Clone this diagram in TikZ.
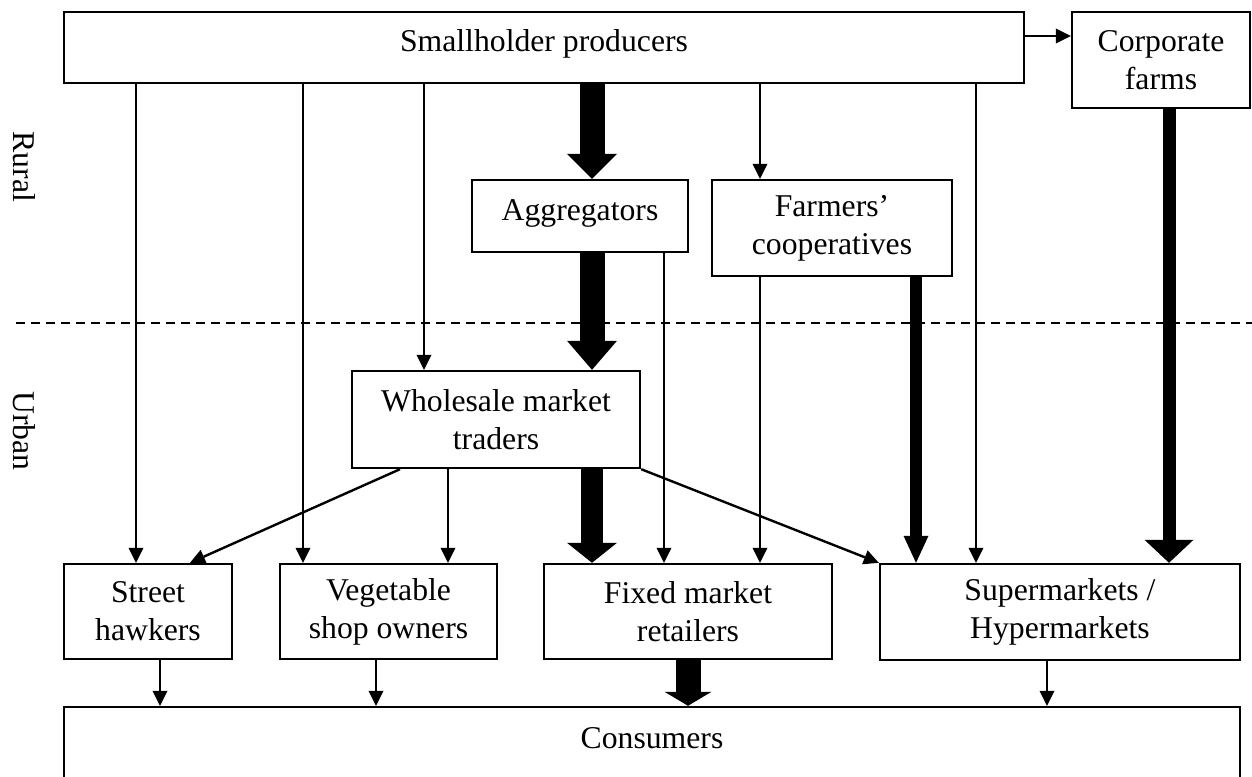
\documentclass[tikz,border=0pt]{standalone}
\usepackage{fontspec}
\setmainfont{Liberation Serif}
\usetikzlibrary{arrows.meta}
\begin{document}
\begin{tikzpicture}[x=1pt,y=-1pt,
  box/.style={draw, line width=2.4pt, align=center, inner sep=0pt, font=\fontsize{31.7}{38}\selectfont},
  oneline/.style={text height=22pt, text depth=13pt},
  conn/.style={line width=2.4pt, -{Triangle[width=15pt,length=15pt,line width=0pt]}},
  fat/.style n args={3}{line width=#1pt, -{Triangle[width=#2pt,length=#3pt,line width=0pt]}},
  side/.style={rotate=-90, inner sep=0pt, font=\fontsize{31.7}{38}\selectfont},
  divider/.style={line width=2.3pt, dash pattern=on 9pt off 6pt}]
\clip (0,0) rectangle (1252,776);
% boxes
\node[box,oneline,minimum width=960pt,minimum height=71pt] (sp) at (544,47.5) {Smallholder producers};
\node[box,minimum width=178pt,minimum height=96pt] (cf) at (1161,60) {Corporate\\farms};
\node[box,oneline,minimum width=216pt,minimum height=72pt] (ag) at (580,216) {Aggregators};
\node[box,minimum width=240pt,minimum height=96pt] (fc) at (832,228) {Farmers’\\cooperatives};
\node[box,minimum width=288pt,minimum height=97pt] (wm) at (496,419.5) {Wholesale market\\traders};
\node[box,minimum width=168pt,minimum height=95pt] (sh) at (148,611.5) {Street\\hawkers};
\node[box,minimum width=217pt,minimum height=95pt] (vs) at (388.5,611.5) {Vegetable\\shop owners};
\node[box,minimum width=288pt,minimum height=95pt] (fm) at (688,611.5) {Fixed market\\retailers};
\node[box,minimum width=360pt,minimum height=96pt] (sm) at (1060,612) {Supermarkets /\\Hypermarkets};
\node[box,oneline,minimum width=1176pt,minimum height=73pt] (co) at (652,743.5) {Consumers};
% side labels
\node[side] (rural) at (24,167) {Rural};
\node[side] (urban) at (24,431) {Urban};
% divider
\coordinate (dl) at (16,323);
\coordinate (dr) at (1252,323);
\draw[divider] (dl) -- (dr);
% helper x positions
\foreach \xx in {136,160,190,303,376,400,424,448,592,664,688,760,916,976,1047,1169}
  \coordinate (x\xx) at (\xx,0);
\coordinate (y36) at (0,36);
% thin connectors
\draw[conn] (sp.east |- y36) -- (cf.west |- y36);
\draw[conn] (sp.south -| x136) -- (sh.north -| x136);
\draw[conn] (sp.south -| x303) -- (vs.north -| x303);
\draw[conn] (sp.south -| x424) -- (wm.north -| x424);
\draw[conn] (sp.south -| x760) -- (fc.north -| x760);
\draw[conn] (sp.south -| x976) -- (sm.north -| x976);
\draw[conn] (ag.south -| x664) -- (fm.north -| x664);
\draw[conn] (fc.south -| x760) -- (fm.north -| x760);
\draw[conn] (wm.south -| x448) -- (vs.north -| x448);
\draw[conn] (wm.south -| x400) -- (sh.north -| x190);
\draw[conn] (wm.south east) -- (sm.north west);
\draw[conn] (sh.south -| x160) -- (co.north -| x160);
\draw[conn] (vs.south -| x376) -- (co.north -| x376);
\draw[conn] (sm.south -| x1047) -- (co.north -| x1047);
% thick connectors
\draw[fat={25}{50}{25}] (sp.south -| x592) -- (ag.north -| x592);
\draw[fat={25}{50}{29}] (ag.south -| x592) -- (wm.north -| x592);
\draw[fat={22}{50}{20}] (wm.south -| x592) -- (fm.north -| x592);
\draw[fat={25}{47}{14}] (fm.south -| x688) -- (co.north -| x688);
\draw[fat={12}{25}{27}] (fc.south -| x916) -- (sm.north -| x916);
\draw[fat={13}{49}{23}] (cf.south -| x1169) -- (sm.north -| x1169);
\end{tikzpicture}
\end{document}
